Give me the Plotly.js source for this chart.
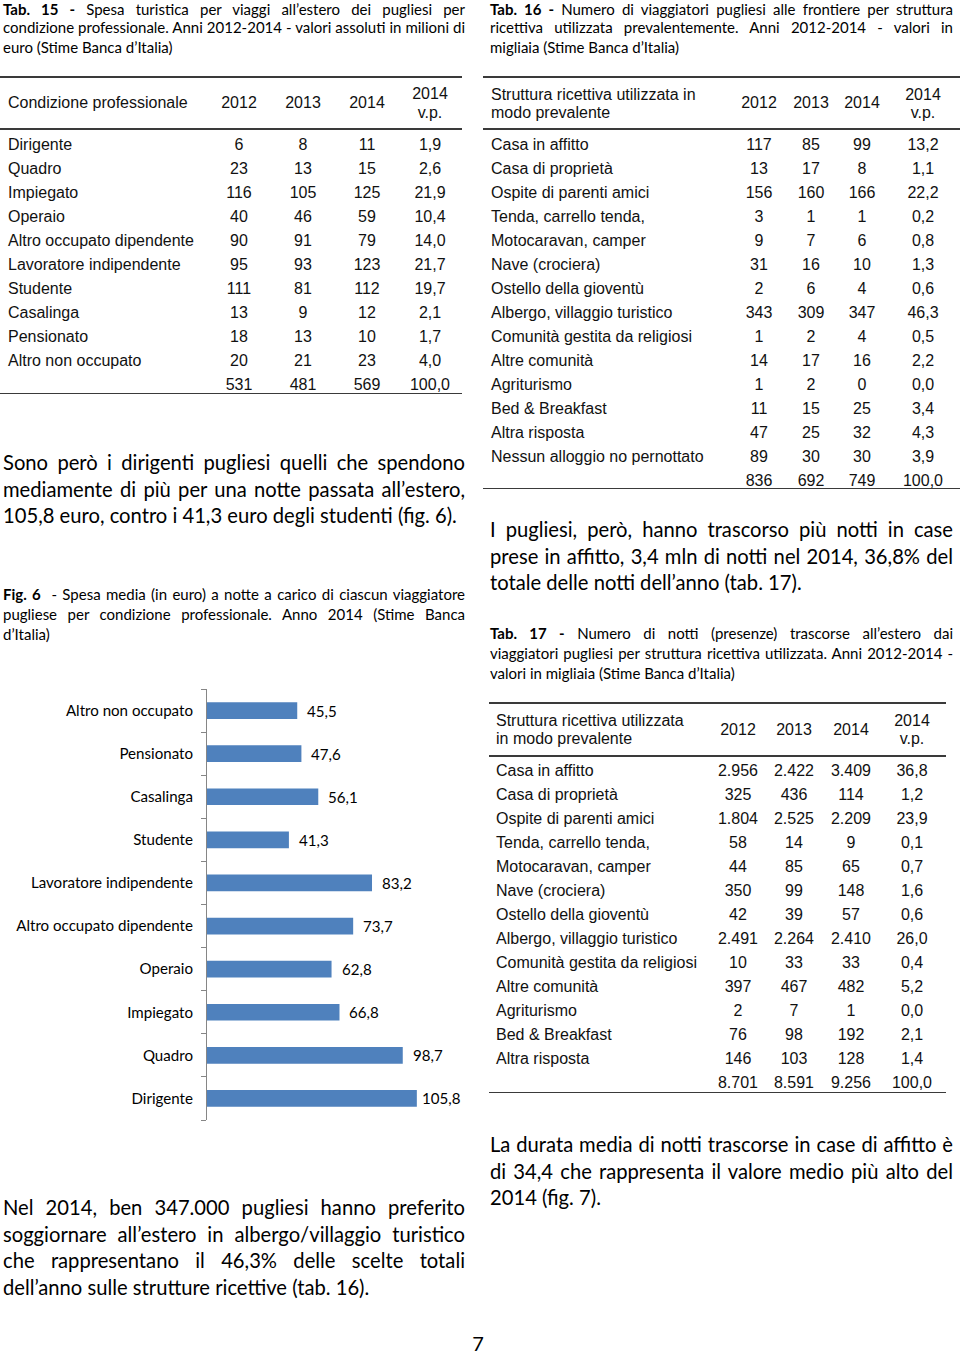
<!DOCTYPE html>
<html>
<head>
<meta charset="utf-8">
<script src="https://cdn.plot.ly/plotly-3.0.1.min.js"></script>
<style>
  html, body { margin:0; padding:0; background:#fff; }
  #page { position:relative; width:960px; height:1353px; overflow:hidden; background:#fff; color:#000; }
  .ln { position:absolute; white-space:nowrap; }
  .just { text-align:justify; text-align-last:justify; }
  .cell { position:absolute; white-space:nowrap; font-family:"Liberation Sans", Arial, sans-serif; font-size:16px; color:#111; height:20px; line-height:20px; }
  .rule { position:absolute; height:1.6px; background:#3a3a3a; }
  #fig6 { position:absolute; left:0; top:680px; width:480px; height:450px; }
</style>
</head>
<body>
<div id="page">
  <div id="fig6"></div>
</div>
<script>
// ---------------- DATA ----------------
// Tab. 15
const t15Categories = ["Dirigente","Quadro","Impiegato","Operaio","Altro occupato dipendente","Lavoratore indipendente","Studente","Casalinga","Pensionato","Altro non occupato"];
const t15Y2012 = [6,23,116,40,90,95,111,13,18,20];
const t15Y2013 = [8,13,105,46,91,93,81,9,13,21];
const t15Y2014 = [11,15,125,59,79,123,112,12,10,23];
const t15VP    = [1.9,2.6,21.9,10.4,14.0,21.7,19.7,2.1,1.7,4.0];
const t15Totals = [531,481,569,100.0];

// Tab. 16
const t16Categories = ["Casa in affitto","Casa di proprietà","Ospite di parenti amici","Tenda, carrello tenda,","Motocaravan, camper","Nave (crociera)","Ostello della gioventù","Albergo, villaggio turistico","Comunità gestita da religiosi","Altre comunità","Agriturismo","Bed & Breakfast","Altra risposta","Nessun alloggio no pernottato"];
const t16Y2012 = [117,13,156,3,9,31,2,343,1,14,1,11,47,89];
const t16Y2013 = [85,17,160,1,7,16,6,309,2,17,2,15,25,30];
const t16Y2014 = [99,8,166,1,6,10,4,347,4,16,0,25,32,30];
const t16VP    = [13.2,1.1,22.2,0.2,0.8,1.3,0.6,46.3,0.5,2.2,0.0,3.4,4.3,3.9];
const t16Totals = [836,692,749,100.0];

// Tab. 17
const t17Categories = ["Casa in affitto","Casa di proprietà","Ospite di parenti amici","Tenda, carrello tenda,","Motocaravan, camper","Nave (crociera)","Ostello della gioventù","Albergo, villaggio turistico","Comunità gestita da religiosi","Altre comunità","Agriturismo","Bed & Breakfast","Altra risposta"];
const t17Y2012 = [2956,325,1804,58,44,350,42,2491,10,397,2,76,146];
const t17Y2013 = [2422,436,2525,14,85,99,39,2264,33,467,7,98,103];
const t17Y2014 = [3409,114,2209,9,65,148,57,2410,33,482,1,192,128];
const t17VP    = [36.8,1.2,23.9,0.1,0.7,1.6,0.6,26.0,0.4,5.2,0.0,2.1,1.4];
const t17Totals = [8701,8591,9256,100.0];

// Fig. 6 (bottom to top)
const fig6Categories = ["Dirigente","Quadro","Impiegato","Operaio","Altro occupato dipendente","Lavoratore indipendente","Studente","Casalinga","Pensionato","Altro non occupato"];
const fig6Values = [105.8,98.7,66.8,62.8,73.7,83.2,41.3,56.1,47.6,45.5];

const yearHeaders = ["2012","2013","2014"];

// ---------------- HELPERS ----------------
const page = document.getElementById('page');
function fmtInt(v){ return String(v).replace(/\B(?=(\d{3})+(?!\d))/g, '.'); }
function fmtDec(v){ return v.toFixed(1).replace('.', ','); }

function addText(x, yc, w, lh, font, html, justify, align){
  if (yc - lh/2 < 0) lh = 2*yc;           // keep the line box inside the page
  const d = document.createElement('div');
  d.className = 'ln' + (justify ? ' just' : '');
  d.style.left = x + 'px';
  d.style.top = (yc - lh/2) + 'px';
  d.style.width = w + 'px';
  d.style.height = lh + 'px';
  d.style.lineHeight = lh + 'px';
  d.style.font = font;
  if (align) d.style.textAlign = align;
  d.innerHTML = html;
  page.appendChild(d);
  return d;
}
function addPara(x, y0, w, lh, font, lines, shift){
  lines.forEach((t, i) => addText(x, y0 + i*lh + shift, w, lh, font, t, i < lines.length-1));
}
function addCell(cx, yc, text, align){
  const d = document.createElement('div');
  d.className = 'cell';
  d.style.top = (yc - 10) + 'px';
  if (align === 'left') { d.style.left = cx + 'px'; }
  else { d.style.left = (cx - 60) + 'px'; d.style.width = '120px'; d.style.textAlign = 'center'; }
  d.textContent = text;
  page.appendChild(d);
}
function addRule(x1, x2, y){
  const d = document.createElement('div');
  d.className = 'rule';
  d.style.left = x1 + 'px'; d.style.width = (x2 - x1) + 'px'; d.style.top = (y - 0.8) + 'px';
  page.appendChild(d);
}
function drawTable(o){
  addRule(o.x1, o.x2, o.topRule);
  addRule(o.x1, o.x2, o.headRule);
  addRule(o.x1, o.x2, o.botRule);
  if (o.head.length === 1) addCell(o.lx, o.headMid, o.head[0], 'left');
  else { addCell(o.lx, o.headL1, o.head[0], 'left'); addCell(o.lx, o.headL2, o.head[1], 'left'); }
  yearHeaders.forEach((h, j) => addCell(o.cols[j], o.headMid, h));
  addCell(o.cols[3], o.headL1, '2014'); addCell(o.cols[3], o.headL2, 'v.p.');
  o.cats.forEach((c, i) => {
    const y = o.row0 + i*o.rowH;
    addCell(o.lx, y, c, 'left');
    addCell(o.cols[0], y, o.fmt(o.a[i]));
    addCell(o.cols[1], y, o.fmt(o.b[i]));
    addCell(o.cols[2], y, o.fmt(o.c[i]));
    addCell(o.cols[3], y, fmtDec(o.vp[i]));
  });
  const yt = o.row0 + o.cats.length*o.rowH;
  addCell(o.cols[0], yt, o.fmt(o.tot[0]));
  addCell(o.cols[1], yt, o.fmt(o.tot[1]));
  addCell(o.cols[2], yt, o.fmt(o.tot[2]));
  addCell(o.cols[3], yt, fmtDec(o.tot[3]));
}

// ---------------- TEXT ----------------
const capFont = '15px Lato, "Open Sans", sans-serif';
const bodyFont = '20.2px Lato, "Open Sans", sans-serif';

addPara(3, 7, 462, 20, capFont, [
  '<b>Tab. 15 -</b> Spesa turistica per viaggi all’estero dei pugliesi per',
  'condizione professionale. Anni 2012-2014 - valori assoluti in milioni di',
  'euro (Stime Banca d’Italia)'
], 1);
addPara(490, 7, 463, 20, capFont, [
  '<b>Tab. 16 -</b> Numero di viaggiatori pugliesi alle frontiere per struttura',
  'ricettiva utilizzata prevalentemente. Anni 2012-2014 - valori in',
  'migliaia (Stime Banca d’Italia)'
], 1);
addPara(3, 463, 462, 26.5, bodyFont, [
  'Sono però i dirigenti pugliesi quelli che spendono',
  'mediamente di più per una notte passata all’estero,',
  '105,8 euro, contro i 41,3 euro degli studenti (fig. 6).'
], 0.5);
addPara(3, 594, 462, 20, capFont, [
  '<b>Fig. 6</b>&nbsp; - Spesa media (in euro) a notte a carico di ciascun viaggiatore',
  'pugliese per condizione professionale. Anno 2014 (Stime Banca',
  'd’Italia)'
], 1);
addPara(3, 1208, 462, 26.6, bodyFont, [
  'Nel 2014, ben 347.000 pugliesi hanno preferito',
  'soggiornare all’estero in albergo/villaggio turistico',
  'che rappresentano il 46,3% delle scelte totali',
  'dell’anno sulle strutture ricettive (tab. 16).'
], 0.5);
addPara(490, 530, 463, 26.5, bodyFont, [
  'I pugliesi, però, hanno trascorso più notti in case',
  'prese in affitto, 3,4 mln di notti nel 2014, 36,8% del',
  'totale delle notti dell’anno (tab. 17).'
], 0.5);
addPara(490, 633, 463, 20, capFont, [
  '<b>Tab. 17 -</b> Numero di notti (presenze) trascorse all’estero dai',
  'viaggiatori pugliesi per struttura ricettiva utilizzata. Anni 2012-2014 -',
  'valori in migliaia (Stime Banca d’Italia)'
], 1);
addPara(490, 1145, 463, 26.5, bodyFont, [
  'La durata media di notti trascorse in case di affitto è',
  'di 34,4 che rappresenta il valore medio più alto del',
  '2014 (fig. 7).'
], 0.5);
addText(458, 1340, 40, 18, '20px Lato, sans-serif', '7', false, 'center');

// ---------------- TABLES ----------------
drawTable({x1:0, x2:462, topRule:77, headRule:129, botRule:393.5,
  lx:8, cols:[239,303,367,430], head:['Condizione professionale'], headMid:103, headL1:94, headL2:113,
  row0:144.5, rowH:24, cats:t15Categories, a:t15Y2012, b:t15Y2013, c:t15Y2014, vp:t15VP, tot:t15Totals, fmt:fmtInt});
drawTable({x1:483, x2:960, topRule:77, headRule:129, botRule:488.5,
  lx:491, cols:[759,811,862,923], head:['Struttura ricettiva utilizzata in','modo prevalente'], headMid:103, headL1:94.5, headL2:113,
  row0:144.5, rowH:24, cats:t16Categories, a:t16Y2012, b:t16Y2013, c:t16Y2014, vp:t16VP, tot:t16Totals, fmt:fmtInt});
drawTable({x1:489, x2:946, topRule:703, headRule:756, botRule:1092.5,
  lx:496, cols:[738,794,851,912], head:['Struttura ricettiva utilizzata','in modo prevalente'], headMid:730, headL1:721, headL2:739,
  row0:770.5, rowH:24, cats:t17Categories, a:t17Y2012, b:t17Y2013, c:t17Y2014, vp:t17VP, tot:t17Totals, fmt:fmtInt});

// ---------------- FIG. 6 (Plotly) ----------------
const labelFont = {family:'Lato, "Open Sans", sans-serif', size:15.1, color:'#000'};
const annotations = fig6Categories.map((c, i) => ({
  x: fig6Values[i], y: c, xref:'x', yref:'y',
  text: fmtDec(fig6Values[i]), showarrow:false,
  xanchor:'center', yanchor:'middle', xshift:25, font:labelFont
}));
Plotly.newPlot('fig6', [{
  type:'bar', orientation:'h',
  x: fig6Values, y: fig6Categories,
  marker:{color:'#4F81BD'},
  hoverinfo:'none'
}], {
  width:480, height:450,
  margin:{l:207, r:35.4, t:9, b:9.5, pad:0},
  paper_bgcolor:'rgba(0,0,0,0)', plot_bgcolor:'rgba(0,0,0,0)',
  bargap:0.613,
  showlegend:false,
  xaxis:{range:[0,120], visible:false, showgrid:false, zeroline:false, fixedrange:true},
  yaxis:{type:'category', categoryorder:'array', categoryarray:fig6Categories,
    showline:true, linecolor:'#868686', linewidth:1,
    ticks:'outside', tickson:'boundaries', ticklen:5, tickcolor:'#868686', tickwidth:1,
    ticklabelstandoff:10, showgrid:false, zeroline:false, tickfont:labelFont, fixedrange:true},
  annotations: annotations
}, {displayModeBar:false, staticPlot:true});
</script>
</body>
</html>
